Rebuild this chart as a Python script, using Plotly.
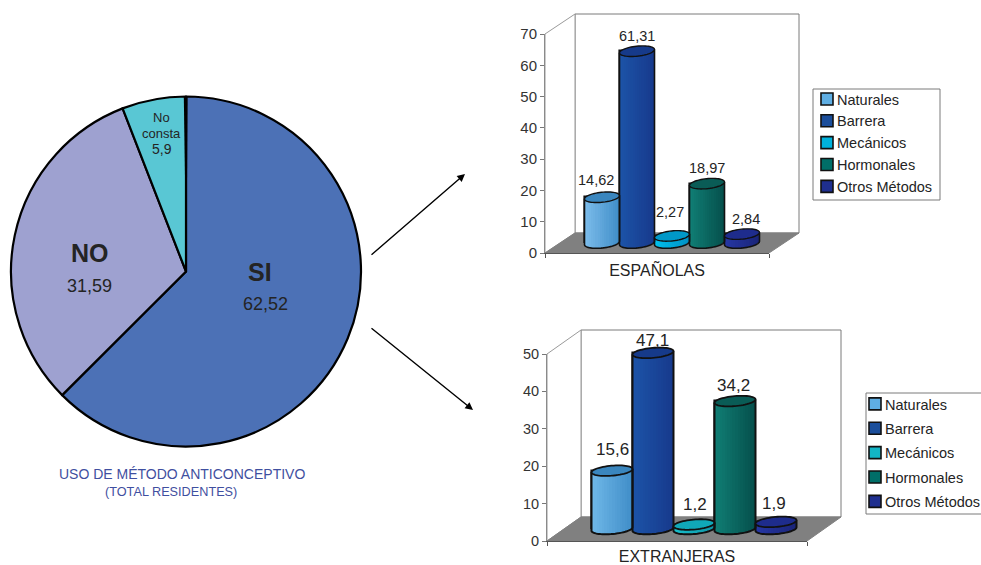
import numpy as np
import plotly.graph_objects as go

# ---------- data ----------
pie_labels = ["SI", "NO", "No consta"]
pie_values = [62.52, 31.59, 5.9]
methods = ["Naturales", "Barrera", "Mecánicos", "Hormonales", "Otros Métodos"]
espanolas = [14.62, 61.31, 2.27, 18.97, 2.84]
extranjeras = [15.6, 47.1, 1.2, 34.2, 1.9]
espanolas_ticks = [0, 10, 20, 30, 40, 50, 60, 70]
extranjeras_ticks = [0, 10, 20, 30, 40, 50]

# ---------- style ----------
W, H = 981, 565
FONT = "Liberation Sans"
TXT = "#242424"
pie_colors = ["#4C71B6", "#9EA1D0", "#59C7D4"]
side1 = [("#7DBDEB", "#3F8DC8"), ("#1C54A8", "#17398C"), ("#00C0EC", "#008FC4"),
         ("#107F75", "#054E4B"), ("#2637A4", "#1A2478")]
side2 = [("#70B8E8", "#3F8DC8"), ("#1C54A8", "#17398C"), ("#18C0CC", "#0E93A5"),
         ("#107F75", "#054E4B"), ("#2637A4", "#1A2478")]
tops = ["#3A86BE", "#163A8A", "#0098C8", "#0A5C56", "#1E2C8C"]
tops2 = ["#3A86BE", "#163A8A", "#10A8B8", "#0A5C56", "#1E2C8C"]
legend_cols1 = ["#5FAEE3", "#1B4E9B", "#00B2DC", "#006E68", "#1F2F8F"]
legend_cols2 = ["#5FAEE3", "#1B4E9B", "#13B5C6", "#006E68", "#1F2F8F"]


def px(x):
    return x / W


def py(y):
    return 1 - y / H


def hex_mix(a, b, t):
    ca = [int(a[i:i + 2], 16) for i in (1, 3, 5)]
    cb = [int(b[i:i + 2], 16) for i in (1, 3, 5)]
    return "#%02x%02x%02x" % tuple(round(p + (q - p) * t) for p, q in zip(ca, cb))


fig = go.Figure()
shapes = []
annotations = []

# ---------- pie ----------
cx, cy, r = 186, 271.5, 175
fig.add_trace(go.Pie(
    labels=pie_labels, values=pie_values, sort=False, direction="clockwise", rotation=0,
    marker=dict(colors=pie_colors, line=dict(color="black", width=2.2)),
    textinfo="none", showlegend=False, hoverinfo="label+value",
    domain=dict(x=[px(cx - r), px(cx + r)], y=[py(cy + r), py(cy - r)]),
))
shapes.append(dict(type="path", xref="paper", yref="paper", layer="above",
                   path=f"M{px(183.8)},{py(96)} L{px(187.6)},{py(96)} L{px(186.4)},{py(270)} Z",
                   fillcolor="black", line=dict(width=0)))


def note(x, y, text, size, color=TXT, bold=False):
    annotations.append(dict(
        xref="paper", yref="paper", x=px(x), y=py(y), xanchor="center", yanchor="middle",
        text=f"<b>{text}</b>" if bold else text, showarrow=False,
        font=dict(family=FONT, size=size, color=color)))


note(260, 272, "SI", 25, bold=True)
note(265, 304, "62,52", 18)
note(90, 253, "NO", 25, bold=True)
note(89, 286, "31,59", 18)
note(161, 118, "No", 13)
note(161, 133, "consta", 13)
note(162, 149, "5,9", 14)
note(182, 474, "USO DE MÉTODO ANTICONCEPTIVO", 14, "#3F4FA0")
note(171, 492, "(TOTAL RESIDENTES)", 12.7, "#3F4FA0")

for (x0, y0, x1, y1) in [(370, 256, 465, 174), (370, 327, 473, 410)]:
    annotations.append(dict(
        xref="paper", yref="paper", axref="pixel", ayref="pixel",
        x=px(x1), y=py(y1), ax=x0 - x1, ay=y0 - y1, text="", showarrow=True,
        arrowhead=2, arrowsize=1.1, arrowwidth=1.4, arrowcolor="black"))


# ---------- 3D-look column charts ----------
def column_chart(values, ticks, ymax, names, front, depth, pitch, font_sizes, sides, top_cols, leg_cols,
                 label_shift, title, title_standoff, legend_name, legend_box, legend_xy, group_gap, entry, lw):
    left, right, y0, ytop = front
    dx, dy = depth
    scale = (y0 - ytop) / ymax
    ax_f = names[0]
    ax_m = names[1]

    # walls and floor
    def poly(pts, **kw):
        d = "M" + " L".join(f"{px(a)},{py(b)}" for a, b in pts) + " Z"
        shapes.append(dict(type="path", xref="paper", yref="paper", layer="below", path=d, **kw))

    poly([(left + dx, y0 - dy), (right + dx, y0 - dy), (right + dx, ytop - dy), (left + dx, ytop - dy)],
         fillcolor="white", line=dict(color="#7a7a7a", width=1))
    poly([(left, y0), (left + dx, y0 - dy), (left + dx, ytop - dy), (left, ytop)],
         fillcolor="white", line=dict(color="#9a9a9a", width=1))
    poly([(left, y0), (left + dx, y0 - dy), (right + dx, y0 - dy), (right, y0)],
         fillcolor="#808080", line=dict(color="#808080", width=1))

    # front axes carry the ticks and the caption
    suffix_f = "" if ax_f == 1 else str(ax_f)
    suffix_m = str(ax_m)
    lay = {}
    lay[f"xaxis{suffix_f}"] = dict(
        domain=[px(left), px(right)], range=[0, 1], anchor=f"y{suffix_f}",
        tickvals=[0, 1], ticktext=["", ""], ticks="outside", ticklen=4, tickcolor="#555",
        showgrid=False, zeroline=False, showline=True, linecolor="#555", linewidth=1,
        title=dict(text=title, standoff=title_standoff, font=dict(family=FONT, size=16, color=TXT)))
    lay[f"yaxis{suffix_f}"] = dict(
        domain=[py(y0), py(ytop)], range=[0, ymax], anchor=f"x{suffix_f}",
        tickvals=ticks, ticks="outside", ticklen=4, tickcolor="#777",
        tickfont=dict(family=FONT, size=font_sizes[0], color="#333"),
        showgrid=False, zeroline=False, showline=True, linecolor="#8a8a8a", linewidth=1)
    # mid-depth axes carry the columns
    pos = np.arange(len(values))
    width_units = (right - left) / pitch
    lay[f"xaxis{suffix_m}"] = dict(
        domain=[px(left + dx / 2), px(right + dx / 2)],
        range=[2 - width_units / 2, 2 + width_units / 2], anchor=f"y{suffix_m}", visible=False)
    lay[f"yaxis{suffix_m}"] = dict(
        domain=[py(y0), py(ytop - dy / 2)], range=[-(dy / 2) / scale, ymax], anchor=f"x{suffix_m}", visible=False)
    fig.update_layout(**lay)

    xa_f, ya_f = f"x{suffix_f}", f"y{suffix_f}"
    xa_m, ya_m = f"x{suffix_m}", f"y{suffix_m}"
    fig.add_trace(go.Scatter(x=[0], y=[0], mode="markers", marker=dict(opacity=0), showlegend=False,
                             hoverinfo="skip", xaxis=xa_f, yaxis=ya_f))

    b = 5.0 / scale      # ellipse half height, in value units
    t = 1.7 / scale      # ellipse tilt, in value units
    a = 0.5

    # legend-bearing bars
    for i, (m, v) in enumerate(zip(methods, values)):
        fig.add_trace(go.Bar(
            x=[pos[i]], y=[v], width=1.0, name=m, legend=legend_name, legendgroup=m,
            marker=dict(color=leg_cols[i], line=dict(color="#111", width=1.6)),
            xaxis=xa_m, yaxis=ya_m, hovertemplate=f"{m}: %{{y}}<extra></extra>"))

    # shaded strips (cylinder gradient)
    n = 16
    for k in range(n):
        u = (k + 0.5) / n - 0.5
        base = 2 * u * t - b * np.sqrt(max(0.0, 1 - (2 * u) ** 2))
        s = (k + 0.5) / n
        fig.add_trace(go.Bar(
            x=pos, y=[v - base + 2 * u * t for v in values], base=base, offset=u - 0.5 / n,
            width=1.06 / n,
            marker=dict(color=[hex_mix(c0, c1, s) for c0, c1 in sides], line=dict(width=0)),
            showlegend=False, hoverinfo="skip", xaxis=xa_m, yaxis=ya_m))

    def ell(c_x, c_y, th):
        return c_x + a * np.cos(th), c_y + b * np.sin(th) + t * np.cos(th)

    for i, v in enumerate(values):
        th = np.linspace(np.pi, 2 * np.pi, 30)
        ex, ey = ell(pos[i], 0, th)
        lx, ly = ell(pos[i], v, np.pi)
        rx, ry = ell(pos[i], v, 0.0)
        pts = [(lx, ly)] + list(zip(ex, ey)) + [(rx, ry)]
        shapes.append(dict(type="path", xref=xa_m, yref=ya_m, layer="above",
                           path="M" + " L".join(f"{p:.4f},{q:.4f}" for p, q in pts),
                           line=dict(color="#111", width=lw)))
        th = np.linspace(0, 2 * np.pi, 60)
        ex, ey = ell(pos[i], v, th)
        shapes.append(dict(type="path", xref=xa_m, yref=ya_m, layer="above",
                           path="M" + " L".join(f"{p:.4f},{q:.4f}" for p, q in zip(ex, ey)) + " Z",
                           fillcolor=top_cols[i], line=dict(color="#111", width=lw - 0.2)))
        annotations.append(dict(
            xref=xa_m, yref=ya_m, x=pos[i], y=v, text=f"{v}".replace(".", ","), showarrow=False,
            xanchor="center", yanchor="middle", xshift=label_shift[i][0], yshift=label_shift[i][1],
            font=dict(family=FONT, size=font_sizes[1], color=TXT)))

    # legend box + legend
    bx0, by0, bx1, by1 = legend_box
    shapes.append(dict(type="rect", xref="paper", yref="paper", layer="below",
                       x0=px(bx0), x1=px(bx1), y0=py(by1), y1=py(by0),
                       fillcolor="white", line=dict(color="#7a7a7a", width=1)))
    fig.update_layout(**{legend_name: dict(
        x=px(legend_xy[0]), y=py(legend_xy[1]), xanchor="left", yanchor="top",
        bgcolor="rgba(0,0,0,0)", borderwidth=0, indentation=-10,
        traceorder="grouped", tracegroupgap=group_gap,
        entrywidth=entry, entrywidthmode="pixels",
        font=dict(family=FONT, size=font_sizes[2], color=TXT))})


column_chart(espanolas, espanolas_ticks, 70, (1, 2), (545, 769, 253, 34), (30, 20), 35.0, (15, 14.5, 14.5),
             side1, tops, legend_cols1,
             [(-6, 17), (0, 15), (-2, 24), (0, 16), (4, 15)],
             "ESPAÑOLAS", 5, "legend", (813, 89, 940, 200), (807, 83), 0, 100, 1.6)
column_chart(extranjeras, extranjeras_ticks, 50, (3, 4), (547, 807, 541, 354), (34, 24), 41.0, (14.5, 17, 14.5),
             side2, tops2, legend_cols2,
             [(0, 21), (-1, 12), (1, 20), (-2, 16), (-2, 18)],
             "EXTRANJERAS", 4, "legend2", (866, 393, 990, 514), (855, 388), 2.5, 96, 2.0)

fig.update_layout(
    width=W, height=H, margin=dict(l=0, r=0, t=0, b=0, autoexpand=False), autosize=False,
    paper_bgcolor="white", plot_bgcolor="rgba(0,0,0,0)",
    barmode="overlay", bargap=0, shapes=shapes, annotations=annotations,
    font=dict(family=FONT, color=TXT),
)
post = """
document.body.style.margin='0';document.body.style.overflow='hidden';
(function(){
  var gd=document.getElementById('{plot_id}');
  function nudge(){
    gd.querySelectorAll('g.legendpoints').forEach(function(g){g.setAttribute('transform','translate(10,0)');});
    gd.querySelectorAll('path.legendbar').forEach(function(p){
      p.setAttribute('d','M5,5H-5V-5H5Z');});
  }
  nudge();
  gd.on('plotly_afterplot',nudge);
  setTimeout(nudge,0);setTimeout(nudge,200);
})();
"""
fig.write_html("out.html", config=dict(displayModeBar=False), post_script=post)
